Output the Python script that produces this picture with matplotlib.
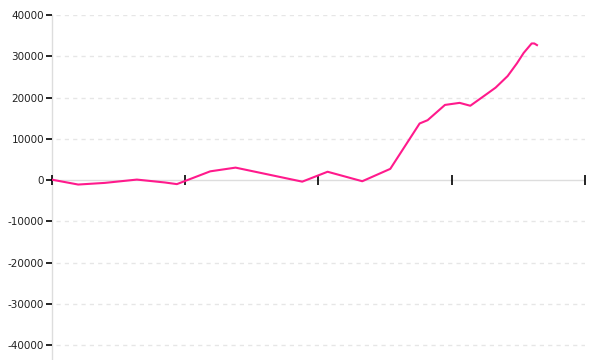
import matplotlib
matplotlib.use("Agg")
import matplotlib.pyplot as plt

# values
x_pos = [0, 0.20, 0.40, 0.64, 0.85, 0.94, 1.19, 1.38, 1.88, 2.07, 2.33, 2.54,
         2.76, 2.82, 2.95, 3.06, 3.14, 3.27, 3.33, 3.42, 3.49, 3.54, 3.60, 3.62, 3.64]
values = [100, -1100, -700, 100, -600, -1000, 2100, 3000, -400, 2000, -300, 2700,
          13700, 14500, 18200, 18700, 18000, 21000, 22400, 25200, 28300, 30800,
          33100, 33100, 32700]
y_ticks = [-40000, -30000, -20000, -10000, 0, 10000, 20000, 30000, 40000]
x_ticks = [0, 1, 2, 3, 4]

line_color = "#ff1a8c"
grid_color = "#e6e6e6"
axis_color = "#dddddd"

fig = plt.figure(figsize=(6, 3.6), dpi=100)
ax = fig.add_axes([51.5 / 600, 0, (585 - 51.5) / 600, 345 / 360])
ax.set_xlim(0, 4)
ax.set_ylim(-43636, 40000)

for spine in ["top", "right", "bottom"]:
    ax.spines[spine].set_visible(False)
ax.spines["left"].set_color(axis_color)
ax.spines["left"].set_linewidth(1)
ax.spines["left"].set_zorder(0.5)

# dashed grid except for the zero line
for t in y_ticks:
    if t == 0:
        continue
    ax.plot([0.03, 4], [t, t], color=grid_color, linewidth=1,
            linestyle=(0, (3, 3)), zorder=1)
ax.axhline(0, color=axis_color, linewidth=1, zorder=1)

ax.plot(x_pos, values, color=line_color, linewidth=1.5, zorder=3)

ax.set_yticks(y_ticks)
ax.set_yticklabels([str(t) for t in y_ticks])
ax.yaxis.set_tick_params(which="major", left=True, direction="out", length=4,
                         width=1.2, color="black", labelsize=7.5,
                         labelcolor="#222222", pad=1.2)

ax.set_xticks(x_ticks)
ax.set_xticklabels([])
ax.xaxis.set_tick_params(which="major", bottom=True, direction="inout",
                         length=7, width=1.2, color="black")
# put x ticks on the zero line
ax.spines["bottom"].set_position(("data", 0))

fig.savefig("out.png", dpi=100)
